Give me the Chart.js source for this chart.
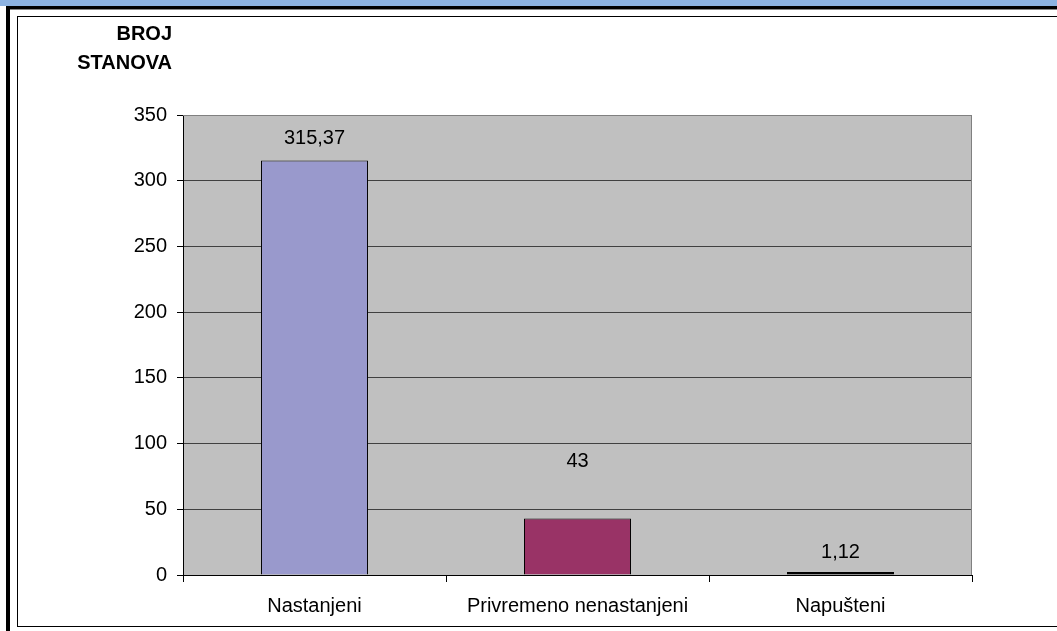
<!DOCTYPE html>
<html><head><meta charset="utf-8">
<script src="https://cdn.jsdelivr.net/npm/chart.js@4"></script>
<style>
html,body{margin:0;padding:0;background:#fff;overflow:hidden;}
#wrap{position:relative;width:1057px;height:631px;}
canvas{position:absolute;left:0;top:0;}
</style></head><body>
<div id="wrap">
<div style="position:absolute;left:0;top:0;width:1057px;height:6px;background:#8db3e2"></div>
<div style="position:absolute;left:6px;top:6px;width:1051px;height:3px;background:#000"></div>
<div style="position:absolute;left:10px;top:9px;width:1047px;height:1px;background:#888"></div>
<div style="position:absolute;left:6px;top:6px;width:4px;height:625px;background:#000"></div>
<div style="position:absolute;left:17px;top:16px;width:1045px;height:611px;border:1px solid #000;box-sizing:border-box"></div>
<canvas id="c" width="1057" height="631"></canvas>
</div>
<script>
const categories = ["Nastanjeni", "Privremeno nenastanjeni", "Napušteni"];
const values = [315.37, 43, 1.12];
const barColors = ["#9999cc", "#993366", "#000000"];
const yTitle = ["BROJ", "STANOVA"];
const yMin = 0, yMax = 350, yStep = 50;

const FONT = "'Liberation Sans', Arial, sans-serif";

const plotBg = {
  id: 'plotBg',
  beforeDraw(chart) {
    const {ctx, chartArea: a} = chart;
    ctx.save();
    ctx.fillStyle = '#c0c0c0';
    ctx.fillRect(a.left, a.top, a.right - a.left, a.bottom - a.top);
    ctx.restore();
  },
  afterDatasetsDraw(chart) {
    const {ctx, chartArea: a} = chart;
    ctx.save();
    ctx.strokeStyle = '#808080';
    ctx.lineWidth = 1;
    ctx.beginPath();
    ctx.moveTo(a.left, a.top + 0.5);
    ctx.lineTo(a.right - 0.5, a.top + 0.5);
    ctx.lineTo(a.right - 0.5, a.bottom);
    ctx.stroke();
    ctx.restore();
  }
};

const labelsPlugin = {
  id: 'valLabels',
  afterDatasetsDraw(chart, args, opts) {
    const {ctx} = chart;
    const meta = chart.getDatasetMeta(0);
    ctx.save();
    ctx.font = '20px ' + FONT;
    ctx.fillStyle = '#000';
    ctx.textAlign = 'center';
    ctx.textBaseline = 'alphabetic';
    meta.data.forEach((bar, i) => {
      const v = values[i];
      const txt = String(v).replace('.', ',');
      const yTop = chart.scales.y.getPixelForValue(v);
      ctx.fillText(txt, bar.x, yTop - opts.offsets[i]);
    });
    ctx.font = 'bold 20px ' + FONT;
    ctx.textAlign = 'right';
    ctx.fillText(yTitle[0], 172, 40);
    ctx.fillText(yTitle[1], 172, 69);
    ctx.restore();
  }
};

new Chart(document.getElementById('c'), {
  type: 'bar',
  data: {
    labels: categories,
    datasets: [{
      data: values,
      backgroundColor: barColors,
      borderColor: '#000',
      borderWidth: 1,
      minBarLength: 3,
      barPercentage: 0.407,
      categoryPercentage: 1
    }]
  },
  options: {
    responsive: false,
    animation: false,
    layout: {padding: {left: 0, top: 115, right: 85, bottom: 0}},
    plugins: {
      legend: {display: false},
      tooltip: {enabled: false},
      valLabels: {offsets: [17, 51, 16]}
    },
    scales: {
      y: {
        min: yMin, max: yMax,
        ticks: {stepSize: yStep, color: '#000', font: {family: FONT, size: 20}, padding: 10},
        grid: {
          color: ctx => (ctx.tick && ctx.tick.value === yMax) ? '#808080' : '#404040',
          tickColor: '#000', tickLength: 6, lineWidth: 1
        },
        border: {display: true, color: '#000'},
        afterFit: s => { s.width = 183; }
      },
      x: {
        offset: true,
        ticks: {color: '#000', font: {family: FONT, size: 20}, padding: 12},
        grid: {display: true, drawOnChartArea: false, offset: true, tickColor: '#000', tickLength: 7},
        border: {display: true, color: '#000'},
        afterFit: s => { s.height = 56; }
      }
    }
  },
  plugins: [plotBg, labelsPlugin]
});
</script>
</body></html>
